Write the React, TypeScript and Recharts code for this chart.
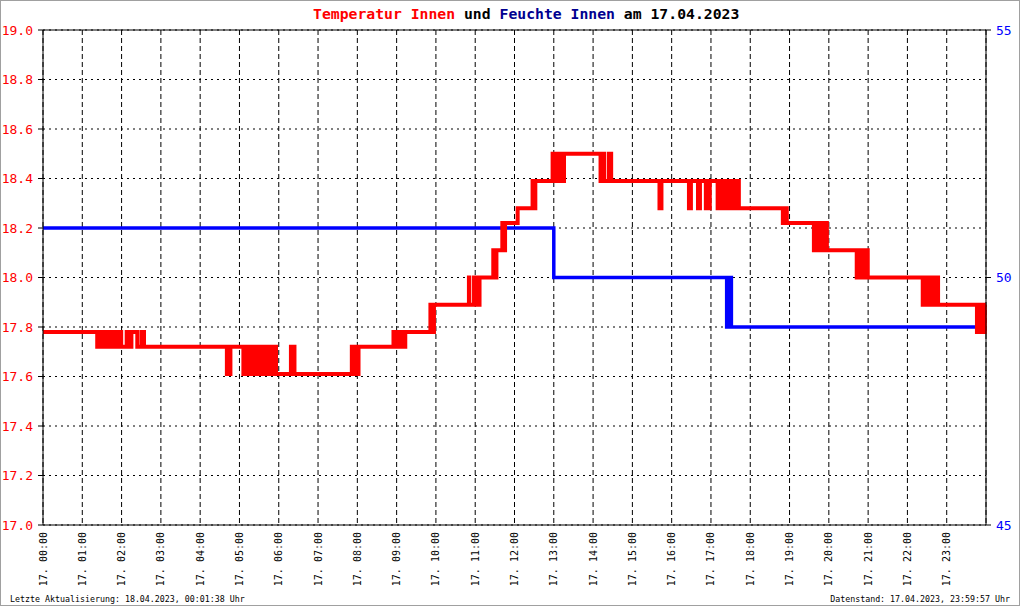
import * as React from 'react'
import { LineChart, Line, XAxis, YAxis, CartesianGrid, ReferenceLine } from 'recharts'

// Innentemperatur, [Stunde, °C] – Stufenwerte inkl. Flackern zwischen zwei Stufen
const tempSteps: [number, number][] = [
  [0, 17.78],
  [1.38, 17.72], [1.42, 17.78], [1.45, 17.72], [1.5, 17.78], [1.54, 17.72], [1.58, 17.78], [1.63, 17.72], [1.66, 17.78],
  [1.7, 17.72], [1.74, 17.78], [1.78, 17.72], [1.81, 17.78], [1.86, 17.72], [1.89, 17.78], [1.93, 17.72], [1.96, 17.78], [1.99, 17.72],
  [2.13, 17.78], [2.19, 17.72], [2.25, 17.78], [2.4, 17.72], [2.51, 17.78], [2.57, 17.72],
  [4.68, 17.61], [4.77, 17.72],
  [5.1, 17.61], [5.16, 17.72], [5.2, 17.61], [5.27, 17.72],
  [5.32, 17.61], [5.37, 17.72], [5.41, 17.61], [5.46, 17.72], [5.5, 17.61], [5.55, 17.72], [5.59, 17.61], [5.64, 17.72],
  [5.68, 17.61], [5.73, 17.72], [5.77, 17.61], [5.85, 17.72],
  [5.93, 17.61],
  [6.31, 17.72], [6.4, 17.61],
  [7.86, 17.72], [7.9, 17.61], [7.95, 17.72], [7.99, 17.61], [8.03, 17.72],
  [8.92, 17.78], [8.98, 17.72], [9.03, 17.78], [9.1, 17.72], [9.15, 17.78], [9.2, 17.72], [9.22, 17.78],
  [9.86, 17.89], [9.9, 17.78], [9.95, 17.89],
  [10.84, 18.0], [10.85, 17.89], [10.97, 18.0], [10.98, 17.89], [11.06, 18.0], [11.09, 17.89], [11.11, 18.0],
  [11.46, 18.11], [11.5, 18.0], [11.54, 18.11],
  [11.69, 18.22], [11.72, 18.11], [11.76, 18.22],
  [12.08, 18.28],
  [12.46, 18.39], [12.49, 18.28], [12.53, 18.39],
  [12.97, 18.5], [13.02, 18.39], [13.06, 18.5], [13.1, 18.39], [13.14, 18.5], [13.2, 18.39], [13.26, 18.5],
  [14.19, 18.39], [14.24, 18.5], [14.28, 18.39], [14.4, 18.5], [14.46, 18.39],
  [15.69, 18.28], [15.74, 18.39],
  [16.44, 18.28], [16.49, 18.39], [16.67, 18.28], [16.72, 18.39], [16.87, 18.28], [16.97, 18.39],
  [17.17, 18.28], [17.21, 18.39], [17.25, 18.28], [17.29, 18.39], [17.33, 18.28], [17.37, 18.39], [17.41, 18.28], [17.45, 18.39],
  [17.49, 18.28], [17.53, 18.39], [17.57, 18.28], [17.61, 18.39], [17.66, 18.28], [17.69, 18.39], [17.71, 18.28],
  [18.83, 18.22], [18.87, 18.28], [18.93, 18.22],
  [19.62, 18.11], [19.66, 18.22], [19.7, 18.11], [19.74, 18.22], [19.79, 18.11], [19.83, 18.22], [19.88, 18.11], [19.92, 18.22], [19.95, 18.11],
  [20.71, 18.0], [20.75, 18.11], [20.79, 18.0], [20.83, 18.11], [20.87, 18.0], [20.91, 18.11], [20.95, 18.0], [20.97, 18.11], [20.99, 18.0],
  [22.39, 17.89], [22.43, 18.0], [22.47, 17.89], [22.51, 18.0], [22.56, 17.89], [22.6, 18.0], [22.65, 17.89], [22.74, 18.0], [22.78, 17.89],
  [23.77, 17.78], [23.81, 17.89], [23.85, 17.78], [23.89, 17.89], [23.93, 17.78], [23.97, 17.89], [24.0, 17.89],
]

// Innenfeuchte, [Stunde, %]
const humSteps: [number, number][] = [
  [0, 51], [13.0, 50], [17.4, 49], [17.43, 50], [17.46, 49], [17.49, 50], [17.52, 49], [24, 49],
]

const hourTicks = [0, 1, 2, 3, 4, 5, 6, 7, 8, 9, 10, 11, 12, 13, 14, 15, 16, 17, 18, 19, 20, 21, 22, 23]
const tempTicks = [17.0, 17.2, 17.4, 17.6, 17.8, 18.0, 18.2, 18.4, 18.6, 18.8, 19.0]
const humTicks = [45, 50, 55]

const MONO = '"DejaVu Sans Mono", "Liberation Mono", monospace'

const tempData = tempSteps.map(([h, v]) => ({ h, v }))
const humData = humSteps.map(([h, v]) => ({ h, v }))

const HourTick = ({ x, y, payload }: any) => {
  const hh = String(payload.value).padStart(2, '0')
  return (
    <text
      x={x}
      y={y}
      transform={`rotate(-90 ${x} ${y})`}
      textAnchor="end"
      dominantBaseline="central"
      fontFamily={MONO}
      fontSize={10}
      fill="#000"
    >
      {`17. ${hh}:00`}
    </text>
  )
}

export default function App() {
  return (
    <div
      style={{
        position: 'fixed',
        left: 0,
        top: 0,
        width: 1020,
        height: 606,
        background: '#fff',
        boxSizing: 'border-box',
        border: '1px solid #a0a0a0',
        fontFamily: MONO,
      }}
    >
      <div
        style={{
          position: 'absolute',
          left: 312,
          top: 4,
          fontSize: 14.75,
          fontWeight: 'bold',
          whiteSpace: 'nowrap',
        }}
      >
        <span style={{ color: '#ff0000' }}>Temperatur Innen</span> und{' '}
        <span style={{ color: '#000090' }}>Feuchte Innen</span> am 17.04.2023
      </div>
      <div style={{ position: 'absolute', left: 0, top: 0 }}>
        <LineChart width={1018} height={604} margin={{ top: 29, right: 0, left: -1, bottom: 0 }}>
          <CartesianGrid yAxisId="t" vertical={false} stroke="#000" strokeDasharray="2 4" />
          <CartesianGrid yAxisId="t" horizontal={false} stroke="#000" strokeDasharray="5 3" />
          <XAxis
            type="number"
            dataKey="h"
            domain={[0, 24]}
            ticks={hourTicks}
            interval={0}
            height={80}
            tickLine={false}
            tickSize={0}
            tickMargin={7}
            axisLine={{ stroke: '#000' }}
            tick={<HourTick />}
          />
          <YAxis
            yAxisId="t"
            domain={[17, 19]}
            ticks={tempTicks}
            interval={0}
            width={43}
            tickSize={5}
            tickMargin={5}
            tickFormatter={(v: number) => v.toFixed(1)}
            axisLine={{ stroke: '#000' }}
            tickLine={{ stroke: '#000' }}
            tick={{ fill: '#ff0000', fontFamily: MONO, fontSize: 13 }}
          />
          <YAxis
            yAxisId="f"
            orientation="right"
            domain={[45, 55]}
            ticks={humTicks}
            interval={0}
            width={33}
            tickSize={5}
            tickMargin={5}
            axisLine={{ stroke: '#000' }}
            tickLine={{ stroke: '#000' }}
            tick={{ fill: '#0000ff', fontFamily: MONO, fontSize: 13 }}
          />
          <ReferenceLine yAxisId="t" y={19} stroke="#000" strokeWidth={1} />
          <Line
            yAxisId="f"
            data={humData}
            dataKey="v"
            type="stepAfter"
            stroke="#0000ff"
            strokeWidth={3.5}
            strokeLinejoin="miter"
            dot={false}
            activeDot={false}
            isAnimationActive={false}
          />
          <Line
            yAxisId="t"
            data={tempData}
            dataKey="v"
            type="stepAfter"
            stroke="#ff0000"
            strokeWidth={4}
            strokeLinejoin="miter"
            dot={false}
            activeDot={false}
            isAnimationActive={false}
          />
        </LineChart>
      </div>
      <div style={{ position: 'absolute', left: 9, top: 593, fontSize: 8.3, whiteSpace: 'nowrap' }}>
        Letzte Aktualisierung: 18.04.2023, 00:01:38 Uhr
      </div>
      <div style={{ position: 'absolute', right: 9, top: 593, fontSize: 8.3, whiteSpace: 'nowrap' }}>
        Datenstand: 17.04.2023, 23:59:57 Uhr
      </div>
    </div>
  )
}
